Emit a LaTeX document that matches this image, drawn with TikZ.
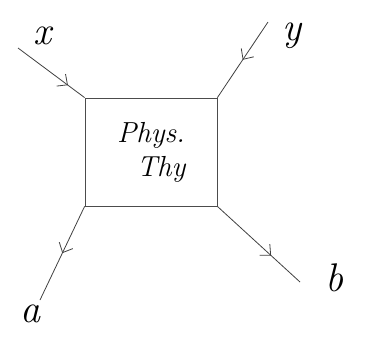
\documentclass[tikz,border=0pt]{standalone}
\usetikzlibrary{arrows.meta,decorations.markings,positioning}
\tikzset{
    myline/.style={line width=0.8pt,draw=black!75},
    midarrow/.style={postaction={decorate},
      decoration={markings,mark=at position #1 with {\arrow{Straight Barb[length=8pt,width=15pt]}}}},
    midarrow/.default=0.55,
    mybox/.style={draw=black!70,line width=0.8pt,minimum width=132pt,minimum height=108pt,
      align=center,inner sep=0pt,font=\fontsize{29}{34}\selectfont\itshape},
    mylabel/.style={font=\fontsize{40}{42}\selectfont\itshape}
}
\begin{document}
\begin{tikzpicture}[x=1pt,y=-1pt]
  \useasboundingbox (0,0) rectangle (366,349);

  % box
  \node[mybox] (thy) at (151,152) {Phys.\\\ \ Thy};

  % free ends
  \coordinate (xin) at (18,48);
  \coordinate (yin) at (268,22);
  \coordinate (aout) at (40,300);
  \coordinate (bout) at (300,282);

  % legs
  \draw[myline,midarrow=0.75] (xin) -- (thy.north west);
  \draw[myline,midarrow=0.5] (yin) -- (thy.north east);
  \draw[myline,midarrow=0.5] (thy.south west) -- (aout);
  \draw[myline,midarrow=0.65] (thy.south east) -- (bout);

  % labels
  \node[mylabel] (lx) at (42,36) {x};
  \node[mylabel] (ly) at (292,36) {y};
  \node[mylabel] (la) at (30,314) {a};
  \node[mylabel] (lb) at (334,278) {b};
\end{tikzpicture}
\end{document}
